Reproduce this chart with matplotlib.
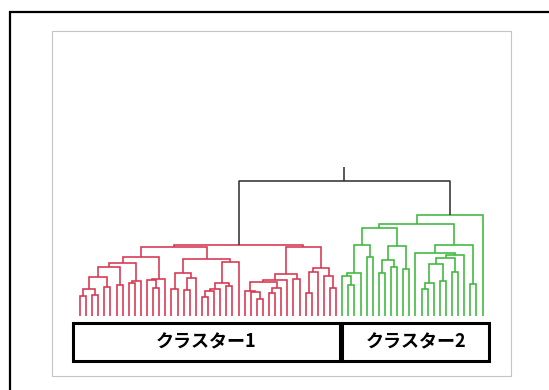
import matplotlib
matplotlib.use("Agg")
import matplotlib.pyplot as plt
from matplotlib.patches import Rectangle

# merge trees: (distance, left, right), leaves are leaf numbers 0..66
red_left_a = (5.93,
              (5.33,
               (4.93,
                (3.9, (2.67, (2.0, 0, 1), (2.1, 2, 3)), (2.9, 4, 5)),
                (3.13, 6, 7)),
               (3.53, (3.35, 8, 9), 10)),
              (3.73, (3.57, 11, (2.83, 12, 13)), 14))
red_left_b = (5.7,
              (4.33, (2.67, 15, 16), (3.77, (2.6, 17, 18), 19)),
              (5.43, (3.3, (2.67, (2.5, (1.93, 20, 21), 22), 23), (3.0, 24, 25)), 26))
red_right = (6.93,
             (4.17,
              (3.57, (3.43, (2.55, 27, (2.4, 28, (1.67, 29, 30))),
                      (2.83, (2.33, 31, 32), 33)), 34),
              (3.73, 35, 36)),
             (4.83, (4.4, (2.33, 37, 38), 39), (4.0, 40, (2.83, 41, 42))))
red_tree = (7.1, (6.87, red_left_a, red_left_b), red_right)

green_a = (8.77,
           (7.1, (4.33, (4.0, 43, (3.1, 44, 45)), 46), (5.93, 47, 48)),
           (7.0, (5.6, (4.33, 49, 50), (4.93, 51, 52)), (4.73, 53, 54)))
green_b = (7.1,
           (6.33, 55, (6.07, (5.83, (5.17, (3.27, (2.73, 56, 57), 58), (3.5, 59, 60)),
                              (4.4, 61, 62)), 63)),
           (3.23, 64, 65))
green_tree = (10.07, (9.17, green_a, green_b), 66)

root_height = 13.53
stem_top = 14.87

cluster_names = ["クラスター1", "クラスター2"]
cluster_colors = ["#d8344f", "#3cb83c"]
root_color = "#333333"

lw = 1.15


def draw(ax, node, color):
    # returns (x, height) of the node, drawing its links
    if isinstance(node, int):
        return float(node), 0.0
    h, a, b = node
    xa, ha = draw(ax, a, color)
    xb, hb = draw(ax, b, color)
    ax.plot([xa, xa, xb, xb], [ha, h, h, hb], color=color, lw=lw,
            solid_capstyle="butt", solid_joinstyle="miter")
    return (xa + xb) / 2, h


def leaves(node):
    if isinstance(node, int):
        return [node]
    return leaves(node[1]) + leaves(node[2])


fig = plt.figure(figsize=(5.49, 3.9), dpi=100)

# outer black frame (cut off at right and bottom) and grey plot frame
fig.add_artist(Rectangle((10 / 549, -0.2), 1.2, 1.2 - 12 / 390, transform=fig.transFigure,
                         fill=False, edgecolor="black", lw=1.6))
fig.add_artist(Rectangle((52 / 549, 1 - 376 / 390), 459 / 549, 345 / 390,
                         transform=fig.transFigure, fill=False, edgecolor="#c4c4c4", lw=0.8))

ax = fig.add_axes([0, 0, 1, 1])
ax.set_xlim(-13.11, 76.89)
ax.set_ylim(-7.4, 31.6)
ax.axis("off")

xr, hr = draw(ax, red_tree, cluster_colors[0])
xg, hg = draw(ax, green_tree, cluster_colors[1])
ax.plot([xr, xr, xg, xg], [hr, root_height, root_height, hg], color=root_color, lw=lw,
        solid_capstyle="butt")
ax.plot([(xr + xg) / 2] * 2, [root_height, stem_top], color=root_color, lw=lw,
        solid_capstyle="butt")

# cluster label boxes under the leaves
red_leaves = leaves(red_tree)
green_leaves = leaves(green_tree)
spans = [(min(red_leaves) - 1.1, max(red_leaves) + 0.6),
         (min(green_leaves), max(green_leaves) + 1.1)]
for (x0, x1), name in zip(spans, cluster_names):
    ax.add_patch(Rectangle((x0, -4.47), x1 - x0, 3.74, fill=False,
                           edgecolor="black", lw=2.2, joinstyle="miter"))
    ax.text((x0 + x1) / 2, -2.6, name, ha="center", va="center", fontsize=13,
            fontweight="bold", family=["Noto Sans CJK JP", "DejaVu Sans"])

fig.savefig("out.png", dpi=100)
